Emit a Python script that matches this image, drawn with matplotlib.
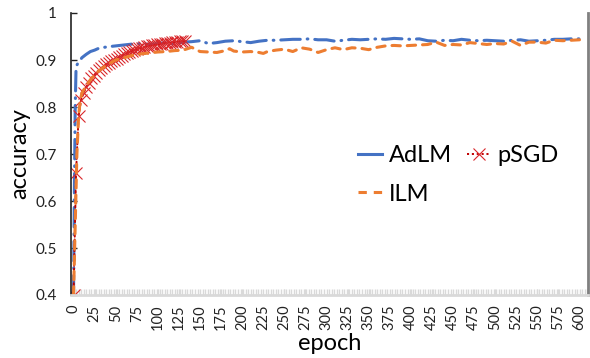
import matplotlib
matplotlib.use("Agg")
import matplotlib.pyplot as plt
from matplotlib.lines import Line2D
from matplotlib.ticker import MultipleLocator, FixedLocator

plt.rcParams['font.family'] = ['Lato', 'DejaVu Sans']
plt.rcParams['lines.scale_dashes'] = False

# ---------------- data ----------------
adlm_epoch = [0, 1, 2, 3, 5, 8, 10, 15, 20, 25, 30, 40, 50, 60, 70, 80, 90, 100,
              110, 120, 130, 140, 150, 160, 170, 180, 190, 200, 210, 220, 230, 240,
              250, 260, 270, 280, 290, 300, 310, 320, 330, 340, 350, 360, 370, 380,
              390, 400, 410, 420, 430, 440, 450, 460, 470, 480, 490, 500, 510, 520,
              530, 540, 550, 560, 570, 580, 590, 600]
adlm_acc = [0.40, 0.62, 0.80, 0.885, 0.893, 0.900, 0.905, 0.912, 0.918, 0.921, 0.925,
            0.928, 0.930, 0.932, 0.934, 0.935, 0.933, 0.935, 0.937, 0.934, 0.938, 0.939,
            0.941, 0.935, 0.937, 0.940, 0.941, 0.939, 0.937, 0.940, 0.942, 0.942, 0.943,
            0.944, 0.944, 0.945, 0.943, 0.943, 0.940, 0.942, 0.944, 0.943, 0.944, 0.945,
            0.944, 0.946, 0.945, 0.944, 0.945, 0.941, 0.940, 0.942, 0.941, 0.944, 0.942,
            0.941, 0.942, 0.941, 0.940, 0.942, 0.943, 0.940, 0.941, 0.942, 0.944, 0.944,
            0.945, 0.945]

ilm_epoch = [0, 2, 4, 6, 8, 10, 15, 20, 25, 30, 40, 50, 60, 70, 80, 90, 100, 110,
             120, 130, 140, 150, 160, 170, 180, 185, 190, 200, 210, 220, 225, 230,
             240, 250, 260, 270, 280, 290, 300, 310, 320, 330, 340, 350, 360, 370,
             380, 390, 400, 410, 420, 430, 440, 450, 460, 470, 480, 490, 500, 510,
             520, 530, 540, 550, 560, 570, 580, 590, 600]
ilm_acc = [0.40, 0.55, 0.70, 0.78, 0.815, 0.83, 0.845, 0.858, 0.868, 0.877, 0.890,
           0.900, 0.905, 0.910, 0.913, 0.915, 0.917, 0.918, 0.920, 0.921, 0.927, 0.918,
           0.917, 0.916, 0.920, 0.924, 0.919, 0.917, 0.918, 0.916, 0.914, 0.918, 0.921,
           0.923, 0.918, 0.926, 0.923, 0.916, 0.922, 0.926, 0.922, 0.926, 0.925, 0.922,
           0.927, 0.930, 0.931, 0.930, 0.931, 0.932, 0.933, 0.938, 0.931, 0.933, 0.932,
           0.937, 0.935, 0.933, 0.935, 0.934, 0.940, 0.931, 0.938, 0.938, 0.936, 0.942,
           0.941, 0.942, 0.943]

psgd_epoch = [0, 3, 6, 9, 12, 15, 18, 21, 24, 27, 30, 33, 36, 39, 42, 45, 48, 51,
              54, 57, 60, 63, 66, 69, 72, 75, 78, 81, 84, 87, 90, 93, 96, 99, 102,
              105, 108, 111, 114, 117, 120, 123, 126, 129, 132]
psgd_acc = [0.40, 0.66, 0.78, 0.815, 0.83, 0.842, 0.852, 0.861, 0.867, 0.873, 0.878,
            0.883, 0.887, 0.891, 0.894, 0.897, 0.900, 0.903, 0.906, 0.909, 0.912, 0.914,
            0.917, 0.919, 0.921, 0.923, 0.925, 0.926, 0.928, 0.929, 0.930, 0.931, 0.932,
            0.933, 0.934, 0.935, 0.936, 0.937, 0.937, 0.938, 0.938, 0.939, 0.940, 0.940,
            0.941]

series_names = ["AdLM", "pSGD", "ILM"]
x_tick_values = list(range(0, 601, 25))
y_tick_values = [0.4, 0.5, 0.6, 0.7, 0.8, 0.9, 1.0]
y_tick_labels = ["0.4", "0.5", "0.6", "0.7", "0.8", "0.9", "1"]

# ---------------- style ----------------
BLUE = "#4472C4"
ORANGE = "#ED7D31"
DARKRED = "#C00000"
RED = "#D9262A"
ADLM_LS = (0, (14, 5, 0.5, 5))
PSGD_LS = (0, (1.5, 2))
ILM_LS = (0, (6, 5))

fig = plt.figure(figsize=(5.9, 3.58), dpi=100)
ax = fig.add_axes([71/590, 1-295/358, (588-71)/590, (295-13)/358])

ax.plot(adlm_epoch, adlm_acc, color=BLUE, lw=2.2, linestyle=ADLM_LS,
        dash_capstyle='round')
ax.plot(psgd_epoch, psgd_acc, color=DARKRED, lw=1.4, linestyle=PSGD_LS,
        marker='x', ms=8.5, mec=RED, mew=0.8, dash_capstyle='round')
ax.plot(ilm_epoch, ilm_acc, color=ORANGE, lw=2.2, linestyle=ILM_LS,
        dash_capstyle='round')

ax.set_xlim(-3, 610)
ax.set_ylim(0.4, 1.0)

ax.yaxis.set_major_locator(FixedLocator(y_tick_values))
ax.set_yticklabels(y_tick_labels)
ax.xaxis.set_major_locator(FixedLocator(x_tick_values))
ax.set_xticklabels([str(v) for v in x_tick_values], rotation=90)
ax.xaxis.set_minor_locator(MultipleLocator(3))

ax.tick_params(axis='y', direction='in', length=4, width=1, color='#222222',
               labelsize=11, pad=10, labelcolor='#222222')
ax.tick_params(axis='x', which='major', direction='in', length=4, width=1,
               color='#D9D9D9', labelsize=10.5, pad=7, labelcolor='#222222')
ax.tick_params(axis='x', which='minor', direction='in', length=4, width=1,
               color='#D9D9D9')

ax.spines['top'].set_visible(False)
ax.spines['left'].set_color('#222222')
ax.spines['left'].set_linewidth(1.2)
ax.spines['bottom'].set_color('#D9D9D9')
ax.spines['bottom'].set_linewidth(2)
ax.spines['right'].set_color('#808080')
ax.spines['right'].set_linewidth(2)

ax.set_ylabel("accuracy", fontsize=17)
ax.yaxis.set_label_coords(-0.078, 0.5)
ax.set_xlabel("epoch", fontsize=17)
ax.xaxis.set_label_coords(0.5, -0.135)

h1 = Line2D([], [], color=BLUE, lw=2.2)
h2 = Line2D([], [], color=DARKRED, lw=1.4, linestyle=PSGD_LS, marker='x', ms=8.5,
            mec=RED, mew=0.8)
h3 = Line2D([], [], color=ORANGE, lw=2.2, linestyle=ILM_LS)

leg = ax.legend([h1, h3, h2], [series_names[0], series_names[2], series_names[1]],
                ncol=2, frameon=False, fontsize=17, handlelength=1.0,
                handletextpad=0.3, columnspacing=0.65, labelspacing=0.75,
                borderpad=0, borderaxespad=0,
                loc='upper left', bbox_to_anchor=(358/590, 1-145/358),
                bbox_transform=fig.transFigure)

fig.savefig("out.png", dpi=100)
